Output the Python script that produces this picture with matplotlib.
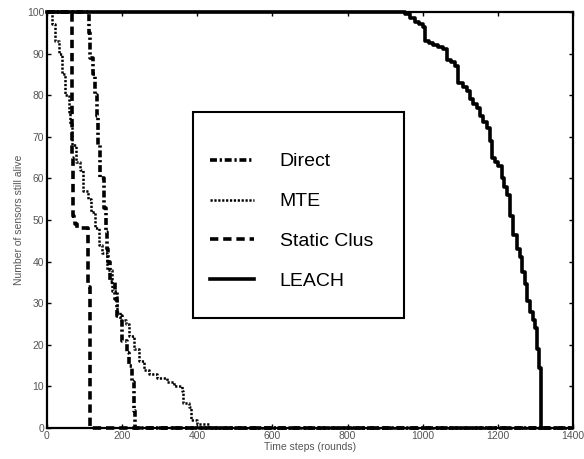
import matplotlib
matplotlib.use("Agg")
import matplotlib.pyplot as plt
from matplotlib.patches import Rectangle

plt.rcParams['lines.scale_dashes'] = False

# ---- data ----
direct_x = [0, 108, 111, 114, 123, 129, 132, 136, 142, 153, 156, 160, 162, 169, 182, 187, 200, 212, 218, 227, 231, 234, 1400]
direct_y = [100, 100, 95, 89, 85, 80, 75, 68, 60, 53, 47, 43, 40, 35, 31, 27, 21, 18, 15, 11, 4, 0, 0]

mte_x = [0, 13, 22, 31, 40, 49, 58, 62, 67, 76, 89, 96, 108, 116, 127, 138, 147, 160, 173, 187, 194, 209, 218,
         231, 244, 258, 271, 293, 320, 338, 360, 363, 378, 382, 400, 430, 1400]
mte_y = [100, 97, 93, 90, 85, 80, 76, 73, 68, 64, 62, 57, 55, 52, 48, 44, 42, 38, 33, 28, 26, 25, 22,
         19, 16, 14, 13, 12, 11, 10, 9, 6, 5, 2, 1, 0, 0]

static_x = [0, 66, 68, 70, 72, 75, 80, 105, 110, 115, 1400]
static_y = [100, 65, 64, 51, 50, 49, 48, 48, 34, 0, 0]

leach_x = [0, 953, 966, 979, 990, 1002, 1006, 1017, 1028, 1042, 1055, 1064, 1075, 1086, 1095, 1106, 1117, 1126,
           1135, 1144, 1152, 1161, 1170, 1179, 1184, 1192, 1201, 1210, 1217, 1224, 1232, 1241, 1250, 1259,
           1263, 1272, 1277, 1286, 1294, 1299, 1305, 1310, 1314, 1315]
leach_y = [100, 99.5, 98.5, 97.5, 97, 96.5, 93, 92.5, 92, 91.5, 91, 88.5, 88, 87, 83, 82, 81, 79,
           78, 77, 75, 73.5, 72, 69, 65, 64, 63, 60, 58, 56, 51, 46.5, 43, 41,
           37.5, 34.5, 30.5, 28, 26, 24, 19, 14.5, 9.5, 0]

labels = ["Direct", "MTE", "Static Clus", "LEACH"]
xticks = [0, 200, 400, 600, 800, 1000, 1200, 1400]
yticks = [0, 10, 20, 30, 40, 50, 60, 70, 80, 90, 100]

# ---- figure ----
small_font = 'Liberation Sans'

fig = plt.figure(figsize=(5.84, 4.59), dpi=100)
ax = fig.add_axes([47/584, 1-428/459, (573-47)/584, (428-12)/459])

ld, = ax.plot(direct_x, direct_y, color='black', lw=2.6, drawstyle='steps-post',
              dashes=[5, 2, 1.6, 2], clip_on=False, label=labels[0])
lm, = ax.plot(mte_x, mte_y, color='black', lw=1.8, drawstyle='steps-post',
              dashes=[1.6, 1.2], clip_on=False, label=labels[1])
ls, = ax.plot(static_x, static_y, color='black', lw=2.6, drawstyle='steps-post',
              dashes=[6, 3.5], clip_on=False, label=labels[2])
ll, = ax.plot(leach_x, leach_y, color='black', lw=2.6, drawstyle='steps-post',
              clip_on=False, label=labels[3])

ax.set_xlim(0, 1400)
ax.set_ylim(0, 100)
ax.set_xticks(xticks)
ax.set_yticks(yticks)
ax.tick_params(direction='in', length=3, width=1, top=True, right=True,
               labelsize=7.5, labelcolor='#555555', pad=2)
for lab in ax.get_xticklabels() + ax.get_yticklabels():
    lab.set_fontfamily(small_font)
for sp in ax.spines.values():
    sp.set_linewidth(1.6)

ax.set_xlabel("Time steps (rounds)", fontsize=7.5, color='#555555', family=small_font, labelpad=1)
ax.set_ylabel("Number of sensors still alive", fontsize=7.5, color='#555555', family=small_font, labelpad=2)

# legend frame
fig.patches.append(Rectangle((193/584, 1-318/459), (404-193)/584, (318-112)/459,
                             transform=fig.transFigure, fill=False, edgecolor='black', lw=1.5))
leg = fig.legend(handles=[ld, lm, ls, ll], loc='upper left',
                 bbox_to_anchor=(200/584, 1-143/459), frameon=False,
                 prop={'family': 'Liberation Sans', 'size': 14},
                 handlelength=2.3, handletextpad=1.3, labelspacing=1.15, borderpad=0)

fig.savefig("out.png", dpi=100)
